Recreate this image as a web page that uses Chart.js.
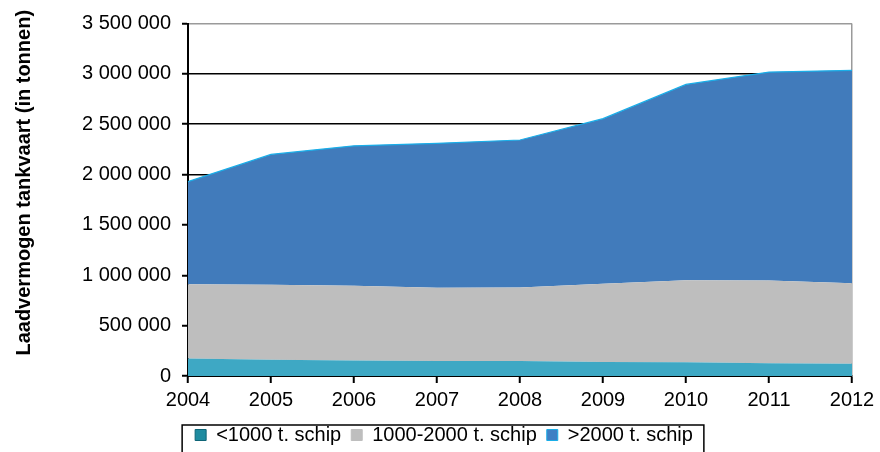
<!DOCTYPE html>
<html>
<head>
<meta charset="utf-8">
<script src="https://cdn.jsdelivr.net/npm/chart.js@4/dist/chart.umd.min.js"></script>
<style>
  html, body { margin: 0; padding: 0; background: #fff; }
  #wrap { width: 880px; height: 452px; position: relative; }
</style>
</head>
<body>
<div id="wrap"><canvas id="area-chart"></canvas></div>
<script>
// jaren
const years = ['2004', '2005', '2006', '2007', '2008', '2009', '2010', '2011', '2012'];

// laadvermogen per klasse (ton)
const small = [175000, 162000, 154000, 149000, 149000, 139000, 136000, 126000, 122000];
const medium = [735000, 743000, 741000, 727000, 729000, 776000, 814000, 822000, 798000];
const large = [1020000, 1295000, 1390000, 1434000, 1465000, 1640000, 1945000, 2070000, 2115000];

const seriesNames = ['<1000 t. schip', '1000-2000 t. schip', '>2000 t. schip'];
const yTicks = [0, 500000, 1000000, 1500000, 2000000, 2500000, 3000000, 3500000];
const yTitle = 'Laadvermogen tankvaart (in tonnen)';

const fontFam = '"Liberation Sans", Arial, sans-serif';

function spaced(v) {
    return String(v).replace(/\B(?=(\d{3})+(?!\d))/g, ' ');
}

// kader rond legenda + astitel
const extras = {
    id: 'extras',
    afterLayout(chart) {
        // legenda iets lager zetten
        chart.legend.top += 3;
        chart.legend.bottom += 3;
    },
    afterDraw(chart) {
        const c = chart.ctx;
        const lg = chart.legend;
        const boxes = lg.legendHitBoxes;
        if (boxes && boxes.length) {
            let x0 = Infinity, x1 = -Infinity;
            for (let b of boxes) {
                x0 = Math.min(x0, b.left);
                x1 = Math.max(x1, b.left + b.width);
            }
            c.save();
            c.strokeStyle = '#000';
            c.lineWidth = 1.5;
            c.strokeRect(x0 - 13, lg.top + 10, (x1 - x0) + 24, 60);
            c.restore();
        }
        // y-as titel, iets boven het midden zoals in het origineel
        const area = chart.chartArea;
        c.save();
        c.translate(24, (area.top + area.bottom) / 2 - 17);
        c.rotate(-Math.PI / 2);
        c.font = 'bold 20px ' + fontFam;
        c.fillStyle = '#000';
        c.textAlign = 'center';
        c.textBaseline = 'middle';
        c.fillText(yTitle, 0, 0);
        c.restore();
    }
};

const ctx = document.getElementById('area-chart').getContext('2d');
const myChart = new Chart(ctx, {
    type: 'line',
    data: {
        labels: years,
        datasets: [{
            label: seriesNames[0],
            data: small,
            backgroundColor: '#3EA8C4',
            borderColor: '#3EA8C4',
            borderWidth: 0,
            fill: 'origin',
            pointRadius: 0
        }, {
            label: seriesNames[1],
            data: medium,
            backgroundColor: '#BEBEBE',
            borderColor: '#BEBEBE',
            borderWidth: 0,
            fill: '-1',
            pointRadius: 0
        }, {
            label: seriesNames[2],
            data: large,
            backgroundColor: '#417BBB',
            borderColor: '#1AAEE8',
            borderWidth: 1.2,
            fill: '-1',
            pointRadius: 0
        }]
    },
    options: {
        responsive: true,
        maintainAspectRatio: false,
        animation: false,
        layout: { padding: { left: 36, right: 28, top: 23.5, bottom: 0 } },
        plugins: {
            tooltip: { enabled: false },
            legend: {
                position: 'bottom',
                labels: {
                    font: { family: fontFam, size: 20 },
                    color: '#000',
                    boxWidth: 11,
                    boxHeight: 11,
                    padding: 10,
                    generateLabels(chart) {
                        const fills = ['#1E8BA0', '#BEBEBE', '#3F7FC4'];
                        const strokes = ['#0E6476', '#BEBEBE', '#1AAEE8'];
                        return seriesNames.map((name, i) => ({
                            text: name,
                            fillStyle: fills[i],
                            strokeStyle: strokes[i],
                            lineWidth: 1,
                            datasetIndex: i
                        }));
                    }
                }
            }
        },
        scales: {
            x: {
                offset: false,
                border: { color: '#000', width: 2 },
                grid: {
                    color: c => c.index === years.length - 1 ? '#9A9A9A' : 'rgba(0,0,0,0)',
                    lineWidth: 1.5,
                    tickColor: '#000',
                    tickLength: 7,
                    tickWidth: 2
                },
                ticks: {
                    font: { family: fontFam, size: 20 },
                    color: '#000',
                    padding: 5,
                    maxRotation: 0
                },
                afterFit(scale) { scale.height = 36; }
            },
            y: {
                stacked: true,
                min: 0,
                max: 3500000,
                border: { color: '#000', width: 2 },
                afterBuildTicks(scale) {
                    scale.ticks = yTicks.map(v => ({ value: v }));
                },
                grid: {
                    color: c => c.tick && c.tick.value === 3500000 ? '#9A9A9A' : '#000',
                    lineWidth: 1.5,
                    tickColor: '#000',
                    tickLength: 6,
                    tickWidth: 2
                },
                ticks: {
                    font: { family: fontFam, size: 20 },
                    color: '#000',
                    padding: 11,
                    callback: v => spaced(v)
                },
                afterFit(scale) { scale.width = 152; }
            }
        }
    },
    plugins: [extras]
});
</script>
</body>
</html>
